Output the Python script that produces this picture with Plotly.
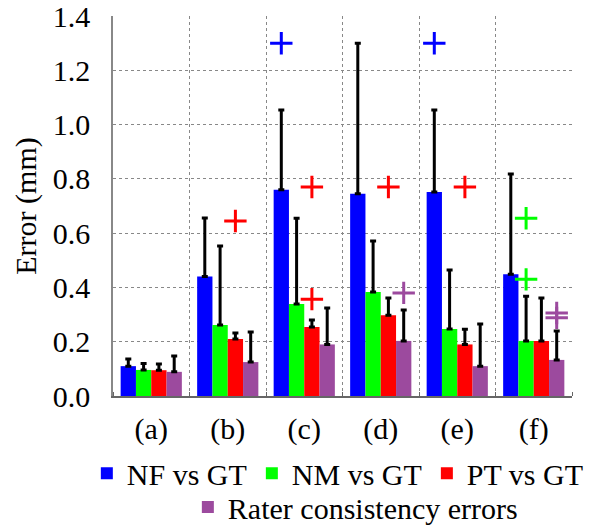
import plotly.graph_objects as go

groups = ["(a)", "(b)", "(c)", "(d)", "(e)", "(f)"]
series_names = ["NF vs GT", "NM vs GT", "PT vs GT", "Rater consistency errors"]
colors = ["#0000FF", "#00FF00", "#FF0000", "#9C4A9E"]

nf = [0.110, 0.440, 0.760, 0.745, 0.752, 0.449]
nm = [0.096, 0.262, 0.339, 0.383, 0.247, 0.203]
pt = [0.095, 0.210, 0.254, 0.298, 0.190, 0.203]
rater = [0.089, 0.125, 0.190, 0.203, 0.110, 0.133]

nf_sd = [0.026, 0.216, 0.294, 0.555, 0.302, 0.369]
nm_sd = [0.024, 0.291, 0.316, 0.188, 0.217, 0.165]
pt_sd = [0.023, 0.022, 0.026, 0.063, 0.056, 0.158]
rater_sd = [0.058, 0.111, 0.134, 0.114, 0.155, 0.107]

y_ticks = [0.0, 0.2, 0.4, 0.6, 0.8, 1.0, 1.2, 1.4]
y_ticktext = ["0.0", "0.2", "0.4", "0.6", "0.8", "1.0", "1.2", "1.4"]

# outliers: (group index, value)
nf_out_g = [2, 4]
nf_out_v = [1.30, 1.30]
nm_out_g = [5, 5]
nm_out_v = [0.655, 0.430]
pt_out_g = [1, 2, 2, 3, 4]
pt_out_v = [0.645, 0.770, 0.357, 0.770, 0.770]
rater_out_g = [3, 5, 5]
rater_out_v = [0.380, 0.306, 0.288]

means = [nf, nm, pt, rater]
sds = [nf_sd, nm_sd, pt_sd, rater_sd]
outs = [(nf_out_g, nf_out_v), (nm_out_g, nm_out_v), (pt_out_g, pt_out_v), (rater_out_g, rater_out_v)]

FONT = "Liberation Serif"
xpos = list(range(1, len(groups) + 1))
bargap = 0.2
nser = len(series_names)
bw = (1 - bargap) / nser

fig = go.Figure()
for k in range(nser):
    fig.add_trace(go.Bar(
        x=xpos, y=means[k], name=series_names[k],
        marker=dict(color=colors[k], line=dict(width=0)),
        error_y=dict(type="data", symmetric=False, array=sds[k],
                     arrayminus=[0] * len(groups), color="black",
                     thickness=3, width=3),
        legend="legend" if k < 3 else "legend2",
    ))
for k in range(nser):
    g, v = outs[k]
    off = -(1 - bargap) / 2 + bw * (k + 0.5)
    fig.add_trace(go.Scatter(
        x=[xpos[i] + off for i in g], y=v, mode="markers",
        marker=dict(symbol="cross-thin", size=16,
                    line=dict(color=colors[k], width=3)),
        showlegend=False, hoverinfo="skip", cliponaxis=False,
    ))

grid_x = [i + 0.5 for i in range(0, len(groups) + 1)]

fig.update_layout(
    width=594, height=525,
    margin=dict(l=113, r=22, t=16, b=129, autoexpand=False),
    paper_bgcolor="white", plot_bgcolor="white",
    barmode="group", bargap=bargap, bargroupgap=0,
    font=dict(family=FONT, size=30, color="black"),
    xaxis=dict(
        range=[0.5, 6.5], tickmode="array", tickvals=xpos, ticktext=groups,
        showgrid=False, ticks="", zeroline=False, automargin=False,
        showline=True, linecolor="#666666", linewidth=1.5,
        ticklabelstandoff=5, ticklabeloverflow="allow",
        tickfont=dict(family=FONT, size=30, color="black"),
        minor=dict(tickmode="array", tickvals=grid_x, showgrid=True,
                   griddash="dot", gridcolor="#888888", gridwidth=1,
                   ticks="inside", ticklen=4, tickcolor="#666666"),
    ),
    yaxis=dict(
        range=[0, 1.4005], tickmode="array", tickvals=y_ticks, ticktext=y_ticktext,
        showgrid=True, griddash="dot", gridcolor="#888888", gridwidth=1,
        zeroline=False, ticks="", automargin=False,
        showline=True, linecolor="#888888", linewidth=1.5,
        ticklabelstandoff=15, ticklabeloverflow="allow",
        tickfont=dict(family=FONT, size=30, color="black"),
        title=dict(text="Error (mm)", font=dict(family=FONT, size=30, color="black"), standoff=7),
    ),
    legend=dict(orientation="h", x=-0.057, xanchor="left", y=-0.135, yanchor="top",
                font=dict(family=FONT, size=30, color="black"), bgcolor="rgba(0,0,0,0)",
                itemclick=False, tracegroupgap=0),
    legend2=dict(orientation="h", x=0.528, xanchor="center", y=-0.224, yanchor="top",
                 font=dict(family=FONT, size=30, color="black"), bgcolor="rgba(0,0,0,0)",
                 itemclick=False),
)

fig.write_html("out.html")
